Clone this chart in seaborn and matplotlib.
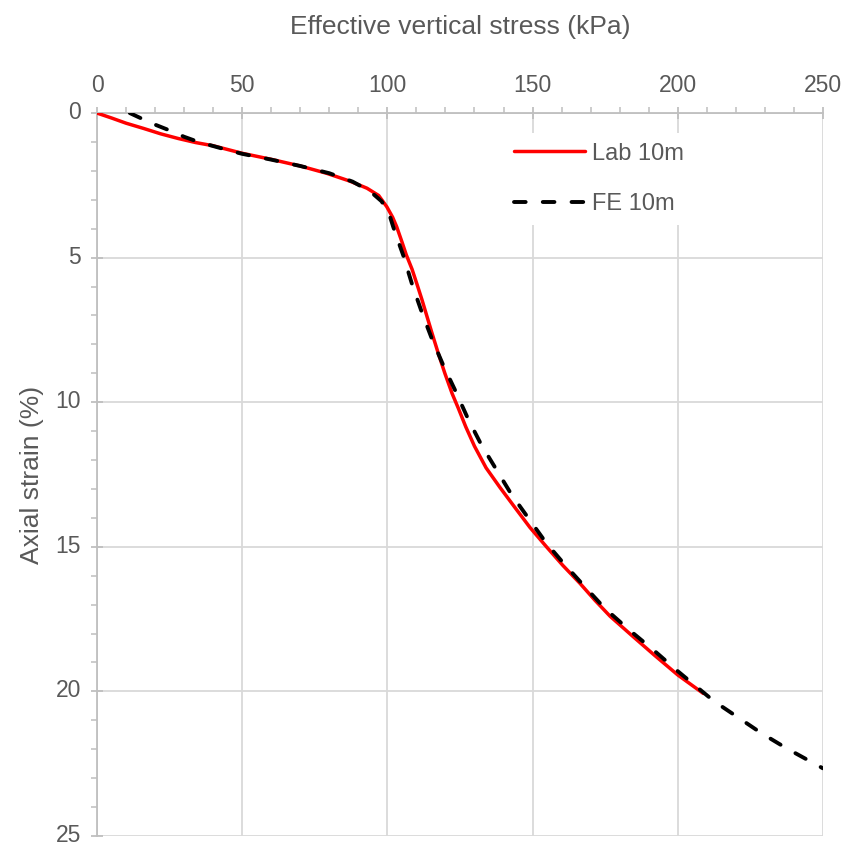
import numpy as np
import pandas as pd
import matplotlib
matplotlib.use("Agg")
import matplotlib.pyplot as plt
import matplotlib.transforms as mtransforms
from matplotlib.ticker import MultipleLocator
import seaborn as sns

# ---- data ----
lab_stress = [0, 5, 10, 16, 22, 28, 34, 40, 45, 50, 60, 70, 79, 87, 93, 97,
              99.8, 101.8, 103.2, 105, 106.5, 108.5, 110.3, 111.9, 113.6, 115.4,
              117.5, 119.8, 122.3, 124.4, 127, 130, 134, 138.8, 144, 149.1,
              154.8, 160.5, 166.3, 171.5, 176.7, 184, 192, 200, 208.8]
lab_strain = [0, 0.17, 0.35, 0.53, 0.72, 0.88, 1.02, 1.13, 1.26, 1.39, 1.6,
              1.83, 2.08, 2.35, 2.6, 2.85, 3.24, 3.6, 3.93, 4.45, 4.9, 5.4, 5.95,
              6.45, 7.02, 7.62, 8.3, 9.0, 9.7, 10.2, 10.85, 11.52, 12.27, 12.95,
              13.65, 14.33, 15.0, 15.65, 16.26, 16.85, 17.4, 18.05, 18.75, 19.43,
              20.07]

fe_stress = [11.3, 16, 20, 25, 30, 35, 40, 45, 50, 60, 70, 80, 88, 94, 98, 100.5,
             102, 103.8, 105.5, 108.5, 111.9, 115.3, 119.2, 123.3, 127.9, 132.4,
             137.6, 142.8, 148.5, 154.8, 161.2, 168, 174.9, 183, 192, 200, 212.5,
             228.9, 237.5, 250]
fe_strain = [0, 0.22, 0.4, 0.6, 0.82, 1.0, 1.14, 1.28, 1.41, 1.61, 1.83, 2.08,
             2.37, 2.7, 3.05, 3.45, 3.93, 4.45, 4.93, 5.92, 6.9, 7.8, 8.71, 9.58,
             10.6, 11.48, 12.34, 13.2, 14.0, 14.88, 15.63, 16.38, 17.13, 17.85,
             18.6, 19.3, 20.34, 21.45, 21.97, 22.66]

x_ticks = [0, 50, 100, 150, 200, 250]
y_ticks = [0, 5, 10, 15, 20, 25]
series_labels = ["Lab 10m", "FE 10m"]

# ---- style ----
sns.set_theme(style="white")
plt.rcParams['font.family'] = ['Liberation Sans', 'DejaVu Sans']
TXT = "#595959"
GRID = "#d9d9d9"
SPINE = "#bfbfbf"
FS_TICK = 16.5
FS_LAB = 19
FS_LEG = 17

fig = plt.figure(figsize=(8.51, 8.47), dpi=100)
ax = fig.add_axes([0.114, 0.013, 0.853, 0.8535])

lab_df = pd.DataFrame({"stress": lab_stress, "strain": lab_strain})
fe_df = pd.DataFrame({"stress": fe_stress, "strain": fe_strain})

sns.lineplot(data=lab_df, x="stress", y="strain", sort=False, estimator=None,
             color="#ff0000", lw=2.5, label=series_labels[0], ax=ax, zorder=3)
sns.lineplot(data=fe_df, x="stress", y="strain", sort=False, estimator=None,
             color="black", lw=2.8, label=series_labels[1], ax=ax, zorder=4,
             linestyle=(0, (3.0, 4.4)), dash_capstyle="round")

ax.set_xlim(0, 250)
ax.set_ylim(25, 0)
ax.set_xticks(x_ticks)
ax.set_yticks(y_ticks)
ax.xaxis.set_minor_locator(MultipleLocator(10))
ax.yaxis.set_minor_locator(MultipleLocator(1))
ax.xaxis.tick_top()
ax.xaxis.set_label_position("top")

ax.grid(True, which="major", color=GRID, lw=1.3, zorder=0)
ax.set_axisbelow(True)

for side in ["right", "bottom"]:
    ax.spines[side].set_visible(False)
for side in ["top", "left"]:
    ax.spines[side].set_color(SPINE)
    ax.spines[side].set_linewidth(1.3)

ax.tick_params(axis="both", which="major", direction="inout", length=9,
               width=1.3, color=SPINE, labelsize=FS_TICK, labelcolor=TXT, pad=7)
ax.tick_params(axis="both", which="minor", direction="out", length=4,
               width=1.1, color=SPINE)
ax.tick_params(axis="x", which="both", top=True, bottom=False)
ax.tick_params(axis="y", which="both", left=True, right=False)

# centre y tick labels on the digit glyphs (nudge up slightly)
offset = mtransforms.ScaledTranslation(0, 3 / 100, fig.dpi_scale_trans)
for tick in ax.yaxis.get_major_ticks():
    tick.label1.set_transform(tick.label1.get_transform() + offset)

ax.set_xlabel("Effective vertical stress (kPa)", fontsize=FS_LAB, color=TXT, labelpad=29)
ax.set_ylabel("Axial strain (%)", fontsize=FS_LAB, color=TXT, labelpad=8)

leg = ax.legend(loc="upper left", bbox_to_anchor=(0.561, 0.972), fontsize=FS_LEG,
                frameon=True, facecolor="white", edgecolor="none", framealpha=1,
                handlelength=3.0, handletextpad=0.3, labelspacing=1.2,
                borderpad=0.4, borderaxespad=0)
for t in leg.get_texts():
    t.set_color(TXT)

fig.savefig("out.png", dpi=100)
